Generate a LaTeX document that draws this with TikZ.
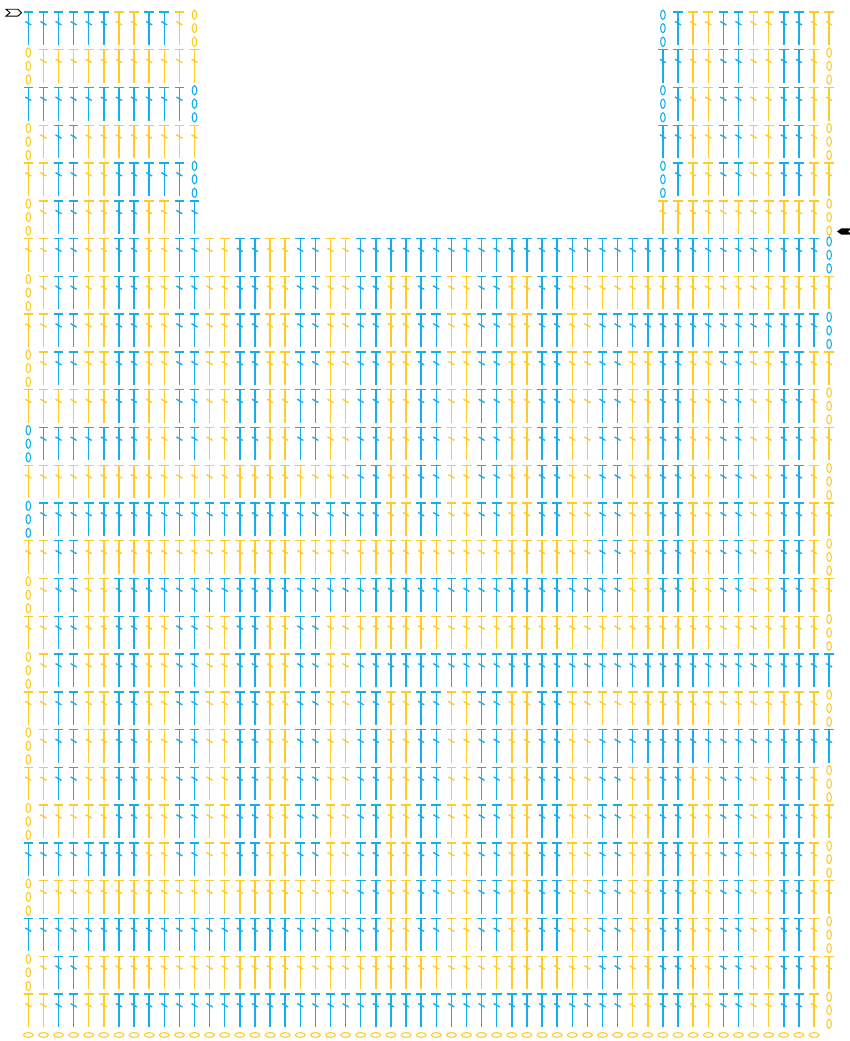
\documentclass[tikz,border=0pt]{standalone}
\usepackage{tikz}
\usepackage{xcolor}

\definecolor{yarnB}{RGB}{22,174,234}
\definecolor{yarnY}{RGB}{255,203,38}

\tikzset{
  stitch/.style={line width=1.4pt},
  chainloop/.style={line width=1.1pt},
  % double crochet
  pics/dcsym/.style={code={
    \draw[stitch] (-4.8,0) -- (4.8,0);
    \draw[stitch] (0,0) -- (0,33);
    \draw[stitch] (-3,9.5) -- (3,13);
  }},
  % turning chain of 3
  pics/turnch/.style={code={
    \foreach \k in {2.8,16.2,29.8}
      \draw[chainloop] (0,\k) ellipse [x radius=2.3, y radius=4.6];
  }},
  % foundation chain
  pics/basech/.style={code={
    \draw[chainloop] (0,0) ellipse [x radius=4.9, y radius=2.4];
  }}
}

\begin{document}
\begin{tikzpicture}[x=1pt,y=-1pt]
    \useasboundingbox (0,0) rectangle (850,1041);

    % Foundation chain
    \foreach \c in {0,...,52}
        \pic[color=yarnY] at ({28.3+15.11*\c},1035) {basech};

    % Rows: row/first/last/colour of the block (1 = yellow, 0 = blue)
    \foreach \r/\lo/\hi/\ov in {
        1/6/39/0, 2/4/37/1, 3/0/23/0, 4/0/21/1, 5/0/7/0, 6/0/5/1, 7/99/-1/0,
        8/38/53/0, 9/38/53/1, 10/22/53/0, 11/22/53/1,
        12/6/39/0, 13/4/37/1, 14/0/23/0, 15/0/21/1, 16/0/7/0, 17/0/5/1, 18/99/-1/0,
        19/38/53/0, 20/38/53/1, 21/22/53/0, 22/22/53/1,
        23/6/39/0, 24/4/37/1, 25/0/23/0, 26/0/21/1, 27/0/5/0}{
        \pgfmathsetmacro\yt{994-(\r-1)*37.77}
        \foreach \c in {0,...,53}{
            % straps above row 21
            \pgfmathtruncatemacro\gap{(\r>21)&&(\c>11)&&(\c<42)}
            \ifnum\gap=0
                \pgfmathtruncatemacro\isY{ifthenelse((\c>=\lo)&&(\c<=\hi),\ov,
                    ifthenelse((\r==27)&&(\c<12),mod(\c,4)>1,mod(\c,4)<2))}
                \pgfmathtruncatemacro\isch{ifthenelse(\r<22,
                    (isodd(\r)&&(\c==53))||(iseven(\r)&&(\c==0)),
                    (iseven(\r)&&((\c==0)||(\c==53)))||(isodd(\r)&&((\c==11)||(\c==42))))}
                \ifnum\isY=1 \def\yarn{yarnY}\else\def\yarn{yarnB}\fi
                \ifnum\isch=1
                    \pic[color=\yarn] at ({28.3+15.11*\c},\yt) {turnch};
                \else
                    \pic[color=\yarn] at ({28.3+15.11*\c},\yt) {dcsym};
                \fi
            \fi
        }
    }

    % Fasten off
    \draw[line width=0.9pt] (6,9.3) -- (18,9.3) -- (21.5,12.7) -- (18,16.1)
        -- (6,16.1) -- (10,12.7) -- cycle;

    % Join yarn
    \fill (837,231.5) -- (841.5,228.3) -- (852,228.3) -- (848,231.5)
        -- (852,234.7) -- (841.5,234.7) -- cycle;
\end{tikzpicture}
\end{document}
